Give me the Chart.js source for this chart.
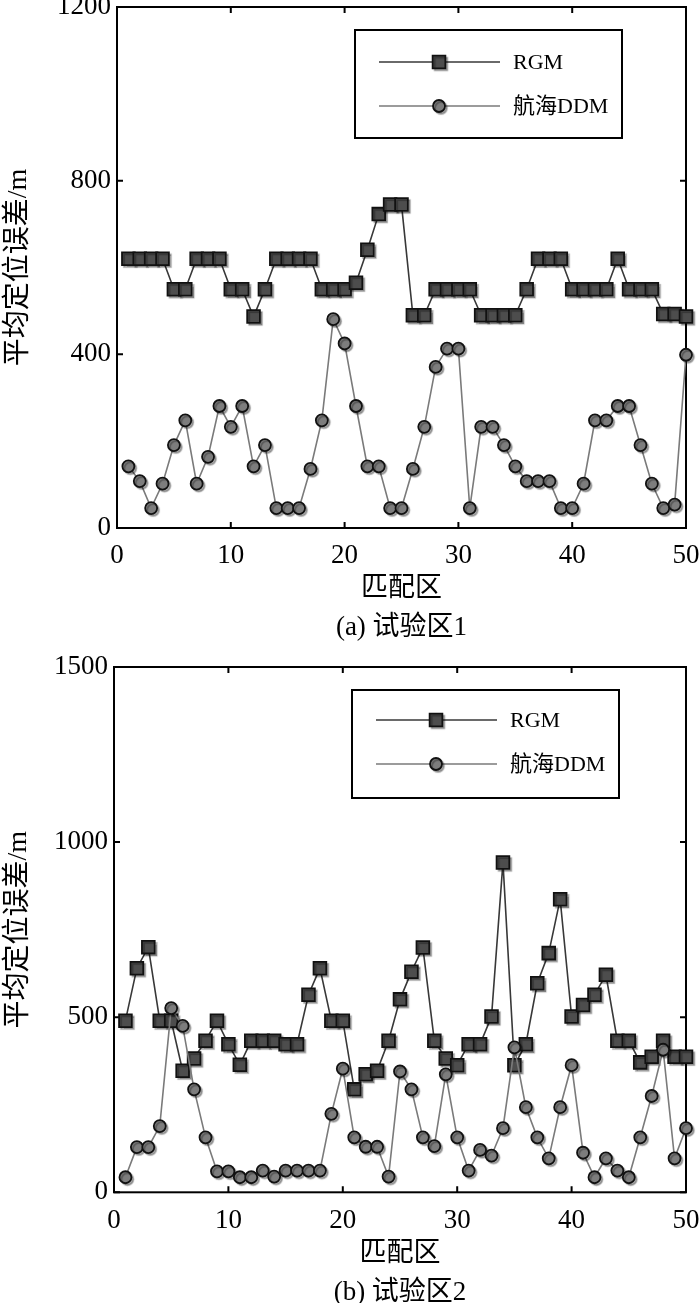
<!DOCTYPE html>
<html>
<head>
<meta charset="utf-8">
<script src="https://cdn.jsdelivr.net/npm/chart.js@4.4.1/dist/chart.umd.min.js"></script>
<style>
  html, body { margin: 0; padding: 0; background: #fff; }
  body { width: 700px; height: 1303px; position: relative; overflow: hidden; }
  canvas { position: absolute; left: 0; }
  #c1 { top: -10px; }
  #c2 { top: 650px; }
</style>
</head>
<body>
<canvas id="c1" width="700" height="660"></canvas>
<canvas id="c2" width="700" height="665"></canvas>
<script>
// 匹配区编号
const zones = [1, 2, 3, 4, 5, 6, 7, 8, 9, 10, 11, 12, 13, 14, 15, 16, 17, 18, 19, 20,
  21, 22, 23, 24, 25, 26, 27, 28, 29, 30, 31, 32, 33, 34, 35, 36, 37, 38, 39, 40,
  41, 42, 43, 44, 45, 46, 47, 48, 49, 50];

// 试验区1 平均定位误差 (m)
const rgmArea1 = [620, 620, 620, 620, 550, 550, 620, 620, 620, 550, 550, 487, 550, 620, 620, 620, 620, 550, 550, 550,
  565, 641, 723, 745, 745, 490, 490, 550, 550, 550, 550, 490, 490, 490, 490, 550, 620, 620, 620, 550,
  550, 550, 550, 620, 550, 550, 550, 493, 493, 487];
const ddmArea1 = [142, 108, 46, 102, 191, 248, 102, 164, 281, 233, 281, 142, 191, 46, 46, 46, 136, 248, 481, 425,
  281, 142, 142, 46, 46, 136, 233, 371, 413, 413, 46, 233, 233, 191, 142, 108, 108, 108, 46, 46,
  102, 248, 248, 281, 281, 191, 102, 46, 54, 399];

// 试验区2 平均定位误差 (m)
const rgmArea2 = [490, 640, 700, 490, 490, 347, 382, 433, 490, 423, 364, 433, 433, 433, 423, 423, 564, 640, 490, 490,
  294, 337, 347, 433, 551, 630, 699, 433, 382, 363, 423, 423, 502, 942, 363, 423, 597, 683, 837, 502,
  535, 564, 621, 433, 433, 371, 387, 433, 387, 387];
const ddmArea2 = [43, 129, 129, 189, 526, 475, 294, 157, 60, 60, 43, 43, 62, 45, 62, 62, 62, 62, 224, 353,
  157, 130, 130, 45, 345, 294, 157, 132, 337, 157, 62, 121, 105, 183, 414, 243, 157, 97, 243, 363,
  113, 43, 97, 62, 43, 157, 275, 407, 97, 183];

const seriesNames = ['RGM', '航海DDM'];
const xTicks = [0, 10, 20, 30, 40, 50];
const yTicks1 = [0, 400, 800, 1200];
const yTicks2 = [0, 500, 1000, 1500];

const SERIF = '"Liberation Serif", "Noto Sans CJK SC", serif';

// 标记点加一点灰色阴影
const basePointDraw = Chart.PointElement.prototype.draw;
Chart.PointElement.prototype.draw = function (ctx, area) {
  ctx.save();
  ctx.shadowColor = 'rgba(0,0,0,0.3)';
  ctx.shadowOffsetX = 2;
  ctx.shadowOffsetY = 2;
  ctx.shadowBlur = 1;
  basePointDraw.call(this, ctx, area);
  ctx.restore();
};

// 外框 + 向内的刻度线
const axisBox = {
  id: 'axisBox',
  beforeDatasetsDraw(chart) {
    const { ctx, chartArea: a, scales } = chart;
    const len = 6;
    ctx.save();
    ctx.strokeStyle = '#000';
    ctx.lineWidth = 2;
    ctx.strokeRect(a.left, a.top, a.right - a.left, a.bottom - a.top);
    ctx.beginPath();
    scales.y.ticks.forEach(t => {
      const py = scales.y.getPixelForValue(t.value);
      ctx.moveTo(a.left, py); ctx.lineTo(a.left + len, py);
      ctx.moveTo(a.right, py); ctx.lineTo(a.right - len, py);
    });
    scales.x.ticks.forEach(t => {
      const px = scales.x.getPixelForValue(t.value);
      ctx.moveTo(px, a.bottom); ctx.lineTo(px, a.bottom - len);
      ctx.moveTo(px, a.top); ctx.lineTo(px, a.top + len);
    });
    ctx.stroke();
    ctx.restore();
  }
};

function drawMarker(ctx, ds, x, y) {
  ctx.save();
  ctx.shadowColor = 'rgba(0,0,0,0.3)';
  ctx.shadowOffsetX = 2;
  ctx.shadowOffsetY = 2;
  ctx.shadowBlur = 1;
  ctx.fillStyle = ds.pointBackgroundColor;
  ctx.strokeStyle = ds.pointBorderColor;
  ctx.lineWidth = ds.pointBorderWidth;
  ctx.beginPath();
  if (ds.pointStyle === 'rect') {
    const s = ds.pointRadius * Math.SQRT1_2;
    ctx.rect(x - s, y - s, 2 * s, 2 * s);
  } else {
    ctx.arc(x, y, ds.pointRadius, 0, Math.PI * 2);
  }
  ctx.fill();
  ctx.stroke();
  ctx.restore();
}

// 图例方框 (放在绘图区内)
const boxLegend = {
  id: 'boxLegend',
  afterDatasetsDraw(chart, args, opts) {
    const { ctx, chartArea } = chart;
    const x = chartArea.left + opts.left;
    const y = chartArea.top + opts.top;
    ctx.save();
    ctx.fillStyle = '#fff';
    ctx.fillRect(x, y, opts.width, opts.height);
    ctx.strokeStyle = '#000';
    ctx.lineWidth = 2;
    ctx.strokeRect(x, y, opts.width, opts.height);
    chart.data.datasets.forEach((ds, i) => {
      const ly = y + opts.rows[i];
      ctx.beginPath();
      ctx.moveTo(x + 24, ly);
      ctx.lineTo(x + 145, ly);
      ctx.strokeStyle = ds.borderColor;
      ctx.lineWidth = ds.borderWidth;
      ctx.stroke();
      drawMarker(ctx, ds, x + 84, ly);
      ctx.fillStyle = '#000';
      ctx.font = '22px ' + SERIF;
      ctx.textAlign = 'left';
      ctx.textBaseline = 'middle';
      ctx.fillText(ds.label, x + 158, ly + 1);
    });
    ctx.restore();
  }
};

function makeChart(canvasId, rgm, ddm, yTicks, yAxisWidth, xAxisHeight, caption, legendRows) {
  return new Chart(document.getElementById(canvasId), {
    type: 'line',
    data: {
      datasets: [
        {
          label: seriesNames[0],
          data: zones.map((z, i) => ({ x: z, y: rgm[i] })),
          borderColor: '#383838',
          borderWidth: 1.6,
          pointStyle: 'rect',
          pointRadius: 9,
          pointBackgroundColor: '#4d4d4d',
          pointBorderColor: '#111',
          pointBorderWidth: 1.8,
          tension: 0,
          clip: false,
          order: 1
        },
        {
          label: seriesNames[1],
          data: zones.map((z, i) => ({ x: z, y: ddm[i] })),
          borderColor: '#7a7a7a',
          borderWidth: 1.6,
          pointStyle: 'circle',
          pointRadius: 6,
          pointBackgroundColor: '#7d7d7d',
          pointBorderColor: '#111',
          pointBorderWidth: 1.8,
          tension: 0,
          clip: false,
          order: 0
        }
      ]
    },
    options: {
      responsive: false,
      animation: false,
      events: [],
      layout: { padding: { top: 17, right: 14, left: 0, bottom: 0 } },
      scales: {
        x: {
          type: 'linear',
          min: xTicks[0],
          max: xTicks[xTicks.length - 1],
          afterBuildTicks: s => { s.ticks = xTicks.map(v => ({ value: v })); },
          afterFit: s => { s.height = xAxisHeight; },
          // 刻度线由 axisBox 画; 这里的 tickLength 只用来留出标签间距
          grid: { display: false, drawTicks: true, tickLength: 12 },
          border: { display: false },
          ticks: {
            padding: 0, color: '#000', autoSkip: false, maxRotation: 0,
            font: { family: SERIF, size: 27 },
            callback: v => String(v)
          },
          title: {
            display: true,
            text: ['匹配区', caption],
            color: '#000',
            font: { family: SERIF, size: 27, lineHeight: 1.44 },
            padding: { top: 0, bottom: 2.5 }
          }
        },
        y: {
          min: yTicks[0],
          max: yTicks[yTicks.length - 1],
          afterBuildTicks: s => { s.ticks = yTicks.map(v => ({ value: v })); },
          afterFit: s => { s.width = yAxisWidth; },
          grid: { display: false, drawTicks: true, tickLength: 6 },
          border: { display: false },
          ticks: {
            padding: 0, color: '#000',
            font: { family: SERIF, size: 27 },
            callback: v => String(v)
          },
          title: {
            display: true,
            text: '平均定位误差/m',
            color: '#000',
            font: { family: SERIF, size: 28 },
            padding: { top: 2, bottom: 0 }
          }
        }
      },
      plugins: {
        legend: { display: false },
        tooltip: { enabled: false },
        boxLegend: { left: 238, top: 23, width: 267, height: 108, rows: legendRows }
      }
    },
    plugins: [axisBox, boxLegend]
  });
}

makeChart('c1', rgmArea1, ddmArea1, yTicks1, 117, 122, '(a) 试验区1', [32, 76]);
makeChart('c2', rgmArea2, ddmArea2, yTicks2, 114, 122.7, '(b) 试验区2', [30, 74]);
</script>
</body>
</html>
